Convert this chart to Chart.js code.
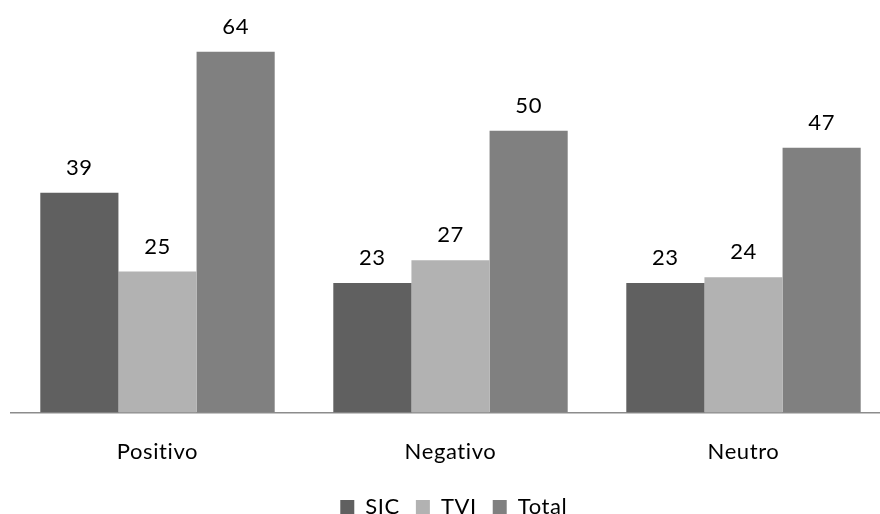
<!DOCTYPE html>
<html>
<head>
<meta charset="utf-8">
<script src="https://cdn.jsdelivr.net/npm/chart.js@4/dist/chart.umd.min.js"></script>
<style>
  html, body { margin: 0; padding: 0; background: #ffffff; }
  #frame { width: 880px; height: 514px; overflow: hidden; position: relative; }
  #wrap { width: 890px; height: 528px; position: absolute; left: 0; top: 0; }
</style>
</head>
<body>
<div id="frame"><div id="wrap"><canvas id="c"></canvas></div></div>
<script>
const categories = ['Positivo', 'Negativo', 'Neutro'];
const sicValues = [39, 23, 23];
const tviValues = [25, 27, 24];
const totalValues = [64, 50, 47];
const seriesNames = ['SIC', 'TVI', 'Total'];

const FONT = 'Lato, "Open Sans", sans-serif';
const FONT_SIZE = 22;
const SPACING = '0.6px';

// Slight letter spacing for every text drawn on the canvas
const letterSpacing = {
  id: 'letterSpacing',
  beforeDraw(chart) {
    chart.ctx.letterSpacing = SPACING;
  }
};

// Writes each bar's value just above its top
const valueLabels = {
  id: 'valueLabels',
  afterDatasetsDraw(chart) {
    const ctx = chart.ctx;
    ctx.save();
    ctx.letterSpacing = SPACING;
    ctx.font = FONT_SIZE + 'px ' + FONT;
    ctx.fillStyle = '#000000';
    ctx.textAlign = 'center';
    ctx.textBaseline = 'alphabetic';
    chart.data.datasets.forEach((ds, i) => {
      chart.getDatasetMeta(i).data.forEach((bar, j) => {
        ctx.fillText(String(ds.data[j]), bar.x, bar.y - 18);
      });
    });
    ctx.restore();
  }
};

new Chart(document.getElementById('c'), {
  type: 'bar',
  data: {
    labels: categories,
    datasets: [
      { label: seriesNames[0], data: sicValues, backgroundColor: '#606060' },
      { label: seriesNames[1], data: tviValues, backgroundColor: '#b2b2b2' },
      { label: seriesNames[2], data: totalValues, backgroundColor: '#808080' }
    ]
  },
  options: {
    responsive: true,
    maintainAspectRatio: false,
    animation: false,
    layout: { padding: { left: 11, right: 0, top: 0, bottom: 0 } },
    datasets: {
      bar: { categoryPercentage: 0.8, barPercentage: 1.0, borderWidth: 0 }
    },
    scales: {
      x: {
        grid: { display: false, drawTicks: false },
        border: { display: true, color: '#8c8c8c', width: 1.5 },
        ticks: {
          color: '#000000',
          font: { family: FONT, size: FONT_SIZE },
          padding: 26
        },
        afterFit(scale) { scale.height = 67.5; }
      },
      y: {
        display: false,
        min: 0,
        max: 73.2
      }
    },
    plugins: {
      legend: {
        position: 'bottom',
        labels: {
          color: '#000000',
          font: { family: FONT, size: FONT_SIZE },
          boxWidth: 14,
          boxHeight: 14,
          padding: 16
        }
      },
      tooltip: { enabled: false }
    }
  },
  plugins: [letterSpacing, valueLabels]
});
</script>
</body>
</html>
